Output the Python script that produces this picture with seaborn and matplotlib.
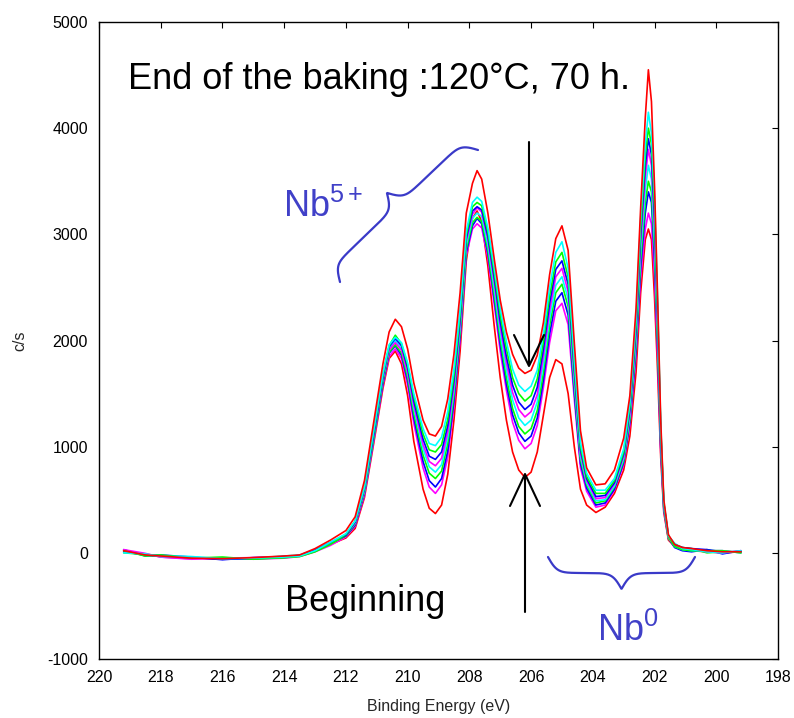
import numpy as np
import pandas as pd
import matplotlib
matplotlib.use("Agg")
import matplotlib.pyplot as plt
import seaborn as sns
from matplotlib.lines import Line2D

# Binding energy grid (eV), shared by all scans
energy = [219.2, 218.5, 218.0, 217.0, 216.0, 215.0, 214.0, 213.5, 213.0, 212.5,
          212.0, 211.7, 211.4, 211.1, 210.8, 210.6, 210.4, 210.2, 210.0, 209.8,
          209.5, 209.3, 209.1, 208.9, 208.7, 208.5, 208.3, 208.1, 207.9, 207.75,
          207.6, 207.4, 207.2, 207.0, 206.8, 206.6, 206.4, 206.2, 206.0, 205.8,
          205.6, 205.4, 205.2, 205.0, 204.8, 204.6, 204.4, 204.2, 203.9, 203.6,
          203.3, 203.0, 202.8, 202.6, 202.45, 202.3, 202.2, 202.1, 202.0, 201.9,
          201.8, 201.7, 201.55, 201.35, 201.1, 200.8, 200.3, 199.8, 199.2]

# Nb 3d counts (c/s), from the start of the bake (scan_01) to its end (scan_10)
scan_01 = [20, -20, -30, -45, -60, -50, -40, -30, 20, 80,
           140, 230, 520, 1030, 1550, 1830, 1900, 1780, 1480, 1050,
           600, 420, 370, 450, 740, 1250, 1900, 2750, 3150, 3220,
           3120, 2700, 2150, 1650, 1250, 950, 780, 710, 760, 950,
           1300, 1650, 1820, 1780, 1500, 1000, 600, 450, 380, 430,
           560, 780, 1100, 1700, 2450, 2950, 3050, 2950, 2400, 1700,
           900, 380, 120, 60, 30, 20, 10, 0, 10]
scan_02 = [10, -10, -40, -55, -50, -60, -50, -35, 10, 70,
           150, 250, 540, 1050, 1580, 1850, 1920, 1830, 1580, 1220,
           800, 620, 560, 640, 900, 1380, 2000, 2800, 3050, 3100,
           3060, 2780, 2350, 1900, 1530, 1230, 1060, 980, 1030, 1200,
           1560, 1980, 2280, 2350, 2150, 1450, 800, 580, 430, 450,
           590, 830, 1200, 1850, 2600, 3050, 3200, 3100, 2600, 1850,
           950, 400, 130, 70, 40, 30, 20, 20, 0]
scan_03 = [30, -30, -20, -40, -65, -45, -35, -25, 25, 90,
           160, 260, 560, 1080, 1600, 1880, 1950, 1860, 1620, 1270,
           860, 680, 620, 700, 960, 1430, 2040, 2830, 3080, 3150,
           3100, 2820, 2400, 1960, 1590, 1300, 1130, 1050, 1100, 1270,
           1630, 2060, 2370, 2450, 2240, 1510, 840, 610, 450, 470,
           600, 850, 1230, 1900, 2680, 3200, 3400, 3300, 2750, 1950,
           1000, 420, 140, 50, 20, 10, 30, -10, 20]
scan_04 = [0, -15, -35, -50, -45, -55, -45, -30, 15, 85,
           160, 270, 570, 1080, 1620, 1890, 1960, 1880, 1650, 1310,
           920, 750, 700, 770, 1030, 1480, 2080, 2860, 3110, 3160,
           3120, 2850, 2440, 2010, 1650, 1360, 1190, 1120, 1170, 1340,
           1700, 2140, 2450, 2530, 2320, 1570, 880, 640, 470, 490,
           620, 870, 1260, 1950, 2760, 3300, 3500, 3400, 2850, 2000,
           1040, 430, 130, 80, 50, 40, 0, 10, 10]
scan_05 = [20, -25, -25, -35, -55, -50, -30, -20, 30, 100,
           170, 280, 580, 1100, 1640, 1920, 2000, 1920, 1690, 1360,
           980, 810, 760, 830, 1090, 1530, 2120, 2900, 3150, 3200,
           3170, 2900, 2500, 2070, 1720, 1440, 1270, 1200, 1250, 1420,
           1780, 2210, 2520, 2600, 2390, 1620, 910, 660, 490, 500,
           630, 890, 1290, 2000, 2840, 3420, 3650, 3520, 2950, 2080,
           1080, 440, 150, 60, 30, 20, 20, 20, 0]
scan_06 = [30, -5, -40, -60, -50, -45, -40, -30, 20, 90,
           170, 280, 590, 1120, 1650, 1910, 1980, 1910, 1700, 1390,
           1020, 860, 820, 890, 1140, 1570, 2160, 2930, 3190, 3250,
           3210, 2950, 2560, 2130, 1790, 1510, 1350, 1280, 1330, 1490,
           1850, 2280, 2600, 2680, 2460, 1670, 940, 680, 510, 520,
           650, 910, 1320, 2050, 2920, 3540, 3800, 3650, 3050, 2150,
           1110, 450, 140, 70, 40, 30, 10, 0, 20]
scan_07 = [10, -20, -30, -45, -60, -55, -35, -25, 25, 95,
           165, 290, 600, 1110, 1660, 1940, 2020, 1950, 1740, 1430,
           1070, 910, 880, 950, 1200, 1620, 2200, 2960, 3220, 3260,
           3230, 2980, 2600, 2180, 1850, 1580, 1420, 1350, 1400, 1560,
           1920, 2350, 2670, 2750, 2530, 1720, 970, 700, 530, 540,
           660, 930, 1350, 2100, 2990, 3640, 3900, 3750, 3150, 2220,
           1150, 460, 160, 80, 50, 40, 30, 10, 10]
scan_08 = [20, -30, -20, -50, -40, -60, -45, -35, 10, 80,
           175, 300, 610, 1140, 1680, 1950, 2050, 1970, 1770, 1470,
           1120, 970, 950, 1020, 1260, 1670, 2240, 2990, 3260, 3300,
           3270, 3020, 2650, 2240, 1920, 1650, 1500, 1430, 1480, 1640,
           1990, 2420, 2740, 2830, 2600, 1770, 1000, 720, 560, 560,
           680, 950, 1380, 2150, 3060, 3740, 4000, 3850, 3250, 2280,
           1180, 470, 150, 60, 30, 20, 20, 20, 0]
scan_09 = [0, -10, -35, -40, -55, -50, -40, -30, 20, 100,
           180, 300, 620, 1150, 1690, 1960, 2030, 1980, 1790, 1500,
           1170, 1030, 1010, 1090, 1330, 1730, 2290, 3030, 3300, 3350,
           3310, 3060, 2700, 2300, 1990, 1730, 1580, 1520, 1570, 1720,
           2070, 2500, 2830, 2930, 2680, 1830, 1040, 750, 590, 590,
           700, 980, 1410, 2200, 3150, 3850, 4150, 3950, 3350, 2350,
           1210, 480, 160, 90, 40, 30, 10, 0, 20]
scan_10 = [20, -20, -30, -50, -55, -45, -30, -20, 40, 120,
           210, 340, 680, 1230, 1780, 2080, 2200, 2130, 1920, 1600,
           1250, 1120, 1100, 1190, 1450, 1870, 2450, 3200, 3480, 3600,
           3520, 3200, 2780, 2380, 2080, 1870, 1740, 1690, 1720, 1860,
           2170, 2620, 2960, 3080, 2850, 1980, 1150, 800, 640, 650,
           780, 1080, 1480, 2300, 3250, 4100, 4550, 4250, 3450, 2400,
           1250, 500, 170, 80, 50, 40, 20, 10, 10]

scan_names = ["scan_01", "scan_02", "scan_03", "scan_04", "scan_05",
              "scan_06", "scan_07", "scan_08", "scan_09", "scan_10"]
scans = [scan_01, scan_02, scan_03, scan_04, scan_05,
         scan_06, scan_07, scan_08, scan_09, scan_10]
scan_colors = ["#FF0000", "#FF00FF", "#0000FF", "#00FF00", "#00FFFF",
               "#FF00FF", "#0000FF", "#00FF00", "#00FFFF", "#FF0000"]

x_ticks = list(range(220, 197, -2))
y_ticks = list(range(-1000, 5001, 1000))

sns.set_style("white")
plt.rcParams["font.family"] = ["Liberation Sans", "DejaVu Sans"]
plt.rcParams["axes.unicode_minus"] = False
plt.rcParams["mathtext.fontset"] = "custom"
plt.rcParams["mathtext.rm"] = "Liberation Sans"
plt.rcParams["mathtext.it"] = "Liberation Sans"
plt.rcParams["mathtext.bf"] = "Liberation Sans:bold"

W, H = 794, 718
fig = plt.figure(figsize=(W / 100, H / 100), dpi=100)
ax = fig.add_axes([99 / W, 1 - 659 / H, 679 / W, 637 / H])

long = pd.DataFrame({
    "Binding Energy (eV)": np.concatenate([energy] * len(scans)),
    "c/s": np.concatenate(scans),
    "scan": np.repeat(scan_names, len(energy)),
})
sns.lineplot(data=long, x="Binding Energy (eV)", y="c/s", hue="scan",
             hue_order=scan_names, palette=scan_colors, estimator=None,
             sort=False, linewidth=1.2, legend=False, ax=ax)

ax.set_xlim(220, 198)
ax.set_ylim(-1000, 5000)
ax.set_xticks(x_ticks)
ax.set_yticks(y_ticks)
ax.tick_params(direction="in", length=4, width=0.8, top=True, right=True,
               labelsize=11.5, pad=8, colors="black")
for s in ax.spines.values():
    s.set_color("black")
    s.set_linewidth(1.0)
ax.set_xlabel("Binding Energy (eV)", fontsize=11.5, labelpad=10)
ax.set_ylabel("c/s", fontsize=11.5, labelpad=14)


def fig_xy(px, py):
    return px / W, 1 - py / H


def pixel_line(xs, ys, color, lw):
    fx = [x / W for x in xs]
    fy = [1 - y / H for y in ys]
    fig.add_artist(Line2D(fx, fy, transform=fig.transFigure, color=color,
                          lw=lw, solid_capstyle="round", solid_joinstyle="round"))


def curly_brace(p0, p1, depth, normal_sign, color, lw, steep=0.22):
    p0 = np.array(p0, float)
    p1 = np.array(p1, float)
    L = np.linalg.norm(p1 - p0)
    d = (p1 - p0) / L
    nrm = normal_sign * np.array([d[1], -d[0]])
    u = np.linspace(0, L, 400)
    uu = np.minimum(u, L - u)
    sig = lambda t: 1 / (1 + np.exp(-t))
    w = depth * (sig(steep * uu) + sig(steep * (uu - L / 2)) - 0.5)
    pts = p0[None, :] + u[:, None] * d[None, :] + w[:, None] * nrm[None, :]
    pixel_line(pts[:, 0], pts[:, 1], color, lw)


brace_blue = "#3A3AC8"

# Nb5+ region brace and label
curly_brace((340, 282), (478, 150), 32, 1, brace_blue, 1.6)
fig.text(*fig_xy(283, 217), r"Nb$^{\mathregular{5+}}$", fontsize=26,
         color="#4040C8", ha="left", va="baseline")

# Nb0 region brace and label
curly_brace((548, 557), (695, 557), 32, -1, brace_blue, 1.6)
fig.text(*fig_xy(597, 641), r"Nb$^{\mathregular{0}}$", fontsize=26,
         color="#4040C8", ha="left", va="baseline")

# Title-like annotation and "Beginning"
fig.text(*fig_xy(128, 89), "End of the baking :120°C, 70 h.", fontsize=26,
         color="black", ha="left", va="baseline")
fig.text(*fig_xy(285, 611), "Beginning", fontsize=26, color="black",
         ha="left", va="baseline")

# Arrows pointing to the valley between the Nb5+ and Nb0 peaks
pixel_line([529, 529], [142, 365], "black", 1.5)
pixel_line([514, 529, 544], [335, 366, 335], "black", 1.5)
pixel_line([525, 525], [612, 475], "black", 1.5)
pixel_line([510, 525, 540], [506, 474, 506], "black", 1.5)

fig.savefig("out.png", dpi=100)
